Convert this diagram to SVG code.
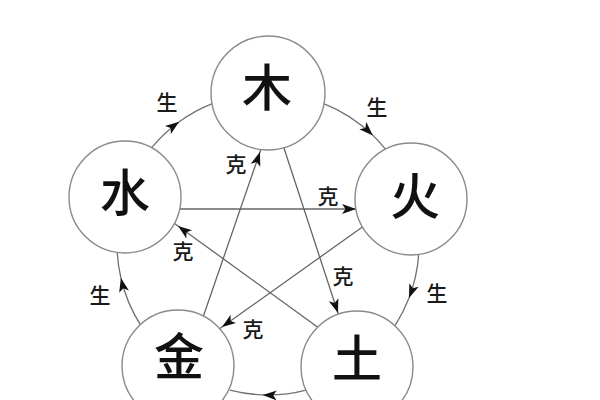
<svg xmlns="http://www.w3.org/2000/svg" width="600" height="400" viewBox="0 0 600 400">
<style>
.node circle{fill:#fff;stroke:#8a8a8a;stroke-width:1.4}
.node text{font-family:"Noto Sans CJK SC","Noto Sans CJK JP",sans-serif;font-size:50px;font-weight:500;fill:#111;text-anchor:middle;dominant-baseline:central}
.lbl{font-family:"Noto Sans CJK SC","Noto Sans CJK JP",sans-serif;font-size:21px;font-weight:500;fill:#1a1a1a;text-anchor:middle;dominant-baseline:central}
.sheng{fill:none;stroke:#707070;stroke-width:1.3;marker-mid:url(#ah)}
.ke{fill:none;stroke:#666;stroke-width:1.3;marker-mid:url(#ah)}
</style>
<defs>
<marker id="ah" markerUnits="userSpaceOnUse" markerWidth="15" markerHeight="11" refX="14" refY="5" orient="auto" viewBox="0 0 15 10">
<path d="M0,0 L14,5 L0,10 L3.5,5 z" fill="#111"/>
</marker>
</defs>
<rect width="600" height="400" fill="#fff"/>
<g id="connectors">
<path class="sheng" d="M323.1,103.4 A151,151 0 0 1 372.9,135.4 A151,151 0 0 1 385.5,149.2"/>
<path class="sheng" d="M418.7,254.3 A151,151 0 0 1 409.0,298.1 A151,151 0 0 1 395.2,325.4"/>
<path class="sheng" d="M306.1,390.1 A151,151 0 0 1 262.7,394.9 A151,151 0 0 1 229.9,390.1"/>
<path class="sheng" d="M140.8,325.4 A151,151 0 0 1 120.9,278.0 A151,151 0 0 1 117.3,253.0"/>
<path class="sheng" d="M151.3,148.2 A151,151 0 0 1 179.2,121.8 A151,151 0 0 1 212.9,103.4"/>
<path class="ke" d="M282,142 L338,313 L341,322"/>
<path class="ke" d="M323,331 L178,226 L170,220"/>
<path class="ke" d="M172,209 L356,209 L365,209"/>
<path class="ke" d="M368,223 L222,327 L212,334"/>
<path class="ke" d="M201,323 L260,152 L263,143"/>
</g>
<g id="node-mu" class="node"><circle cx="268" cy="93" r="57"/><text x="267" y="84">木</text></g>
<g id="node-huo" class="node"><circle cx="411" cy="199" r="56"/><text x="415" y="193">火</text></g>
<g id="node-tu" class="node"><circle cx="357" cy="367" r="56"/><text x="357" y="355">土</text></g>
<g id="node-jin" class="node"><circle cx="178" cy="366" r="56"/><text x="179" y="353">金</text></g>
<g id="node-shui" class="node"><circle cx="125" cy="197" r="56"/><text x="125" y="189">水</text></g>
<g id="labels">
<text class="lbl" x="167" y="101">生</text>
<text class="lbl" x="377" y="106">生</text>
<text class="lbl" x="437" y="292">生</text>
<text class="lbl" x="100" y="294">生</text>
<text class="lbl" x="236" y="163">克</text>
<text class="lbl" x="328" y="195">克</text>
<text class="lbl" x="183" y="250">克</text>
<text class="lbl" x="343" y="275">克</text>
<text class="lbl" x="253" y="328">克</text>
</g>
</svg>
